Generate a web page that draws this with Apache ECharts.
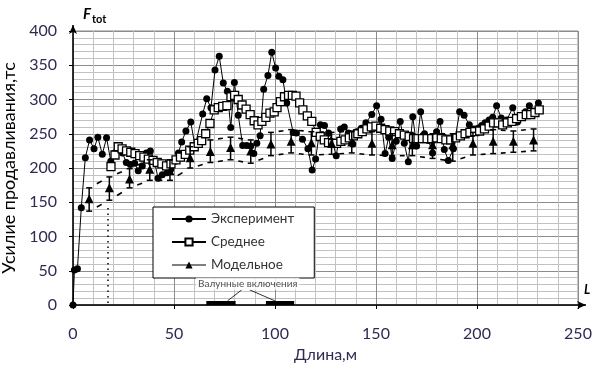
<!DOCTYPE html>
<html><head><meta charset="utf-8">
<script src="https://cdn.jsdelivr.net/npm/echarts@6/dist/echarts.min.js"></script>
<style>html,body{margin:0;padding:0;background:#fff}#c{width:594px;height:366px}</style>
</head><body><div id="c"></div>
<script>
// ---- data ----
const expX = [0,0.7,2.2,4.1,6.1,8.2,10.4,12.3,14.5,16.6,18.7,20.6,22.6,24.5,26.4,28.4,30.5,32.3,34.3,36.3,38.3,40.2,42.1,44.2,46.6,48.4,50.5,52.2,53.8,55.9,58.3,60.4,64.2,66.2,68.3,70.3,72.4,74.4,76.4,78.1,79.9,81.8,84,86,88,89.5,91,92.6,94.4,96.5,98.4,100.3,101.9,103.9,105.8,109,110.6,113.6,116.3,118.4,120.1,122.5,124.5,126.5,128.5,130.3,132.5,134.3,136.3,138.5,140.4,142.7,145,147.9,150.3,152.5,154.5,156.3,158,160,162,164,166,168.2,170.1,172.1,174,176,178,180,181.7,183.8,185.8,188.3,191.4,193.6,196.2,198.5,200.5,202.3,204,206,207.8,209.7,212,214.7,217.7,220,222,224,225.9,228,230.4];
const expY = [0,51,53,142,215,241,228,245,220,244,210,222,228,222,208,205,207,196,203,222,225,212,185,190,193,198,210,222,238,254,267,232,279,301,288,343,363,324,312,259,325,277,233,233,232,221,236,247,315,335,369,346,334,329,295,252,251,242,228,197,213,263,262,251,238,218,257,260,251,235,253,258,266,278,291,271,221,245,214,239,268,236,209,275,232,282,250,240,222,253,268,227,211,228,282,277,263,257,258,262,266,270,274,291,273,270,288,267,275,282,291,283,295];

const avgX = [18.8,20.8,22.4,24.3,26.5,28.6,30.7,33,35.1,37.3,39.6,41.7,44,46.3,48.5,51,53.2,55.6,57.8,60,62,63.7,65.7,67.8,69.9,71.9,74.1,76.2,78.2,80,81.8,83.7,85.7,87.7,89.7,91.6,93.5,95.5,97.5,99.6,101,102.7,104.7,106.7,108.6,110.4,112.2,113.8,116,118.2,120.4,122.4,124.4,126.5,128.5,130.5,132.6,134.7,136.8,138.8,141,143.2,145.5,147.7,150,152.3,154.5,156.8,159.2,161.6,164,166.4,168.6,170.8,173,175.3,177.6,180,182.3,184.6,187,189.4,191.8,194.1,196.5,198.9,201.3,203.7,206,208.2,210.5,212.7,215,217.3,219.6,222,224.4,226.6,228.7,230.8];
const avgY = [202,219,231,228,225,223,221,218,216,213,211,208,206,203,206,212,216,220,226,231,236,240,250,265,285,288,290,291,304,306,300,292,286,278,269,263,268,274,280,282,288,297,304,306,306,305,295,285,276,268,252,246,241,237,236,236,239,241,244,247,250,253,257,260,261,258,256,254,253,250,248,246,243,243,243,243,243,244,243,241,241,244,247,250,252,253,254,257,261,266,266,263,266,268,272,275,278,278,281,285];

const modelX    = [8,18,28,38,48,58,68,78,88,98,108,118,128,138,148,158,168,178,188,198,208,218,228];
const modelY    = [155,171,184,198,196,215,224,230,225,235,239,237,236,238,236,234,234,234,234,236,239,239,241];
const modelLow  = [137,153,171,182,182,200,208,212,207,218,222,219,220,222,219,218,218,214,210,219,221,223,225];
const modelHigh = [171,187,199,212,212,231,241,245,241,252,256,253,252,254,253,250,250,250,250,252,256,254,257];

const boulderFrom = [66, 95.5];
const boulderTo   = [80.5, 109.5];
const boulderLevel = 4;
const boulderText = 'Валунные включения';
const boulderTextPos = [86.5, 31];
const leaderFrom = [[83.5, 22], [87.5, 22]];
const leaderTo   = [[76.5, 6], [100, 6]];
const dottedX = 17.3, dottedTop = 142;

const xTickMin = 0, xTickMax = 250, xTickStep = 50;
const yTickMin = 0, yTickMax = 400, yTickStep = 50;

const names = ['Эксперимент', 'Среднее', 'Модельное'];
const xName = 'Длина,м';
const yName = 'Усилие продавливания,тс';

// ---- build ----
const zip = (a, b) => a.map((v, i) => [v, b[i]]);
const FONT = 'Lato';
const lblColor = '#2f2a52';

const chart = echarts.init(document.getElementById('c'), null, {renderer: 'canvas'});

const errData = modelX.map((x, i) => [x, modelLow[i], modelHigh[i]]);
const envPairs = [];
for (let i = 0; i + 1 < modelX.length; i++) {
  envPairs.push([modelX[i], modelLow[i], modelX[i + 1], modelLow[i + 1]]);
  envPairs.push([modelX[i], modelHigh[i], modelX[i + 1], modelHigh[i + 1]]);
}

const option = {
  animation: false,
  backgroundColor: '#fff',
  grid: {left: 73, right: 16, top: 31, bottom: 61, show: true, borderColor: '#8a8a8a', borderWidth: 1,
         containLabel: false, outerBoundsMode: 'none'},
  title: {
    text: '{f|F}{s|tot}', left: 78, top: 2,
    textStyle: {rich: {
      f: {fontFamily: FONT, fontStyle: 'italic', fontWeight: 'bold', fontSize: 15, color: '#000', lineHeight: 18, verticalAlign: 'top'},
      s: {fontFamily: FONT, fontWeight: 'bold', fontSize: 11, color: '#000', lineHeight: 18, verticalAlign: 'bottom', padding: [6, 0, 0, 1]}
    }}
  },
  legend: {
    orient: 'vertical', left: 153, top: 207,
    data: [names[0], names[1], {name: names[2], lineStyle: {opacity: 1, width: 1.2, color: '#000'}}],
    backgroundColor: '#fff', borderColor: '#000', borderWidth: 1,
    padding: [5, 20, 6, 18], itemWidth: 34, itemHeight: 9, itemGap: 9,
    textStyle: {fontFamily: FONT, fontSize: 13.5, color: '#333'}
  },
  xAxis: {
    type: 'value', min: xTickMin, max: xTickMax, interval: xTickStep,
    name: xName, nameLocation: 'middle', nameGap: 41,
    nameTextStyle: {fontFamily: FONT, fontSize: 16, color: lblColor},
    axisLine: {lineStyle: {color: '#000', width: 1.5}, symbol: ['none', 'arrow'], symbolSize: [6, 9], symbolOffset: [0, 8]},
    axisTick: {show: true, length: 4, lineStyle: {color: '#000'}},
    axisLabel: {fontFamily: FONT, fontSize: 16, color: lblColor, margin: 21},
    splitLine: {show: true, lineStyle: {color: '#8c8c8c', width: 1}},
    minorTick: {show: false, splitNumber: 5},
    minorSplitLine: {show: true, lineStyle: {color: '#c2c2c2', width: 1}}
  },
  yAxis: {
    type: 'value', min: yTickMin, max: yTickMax, interval: yTickStep,
    name: yName, nameLocation: 'middle', nameGap: 49, nameRotate: 90,
    nameTextStyle: {fontFamily: FONT, fontSize: 18, color: '#000'},
    axisLine: {show: true, lineStyle: {color: '#000', width: 1.5}, symbol: ['none', 'arrow'], symbolSize: [6, 9], symbolOffset: [0, 6]},
    axisTick: {show: true, length: 4, lineStyle: {color: '#000'}},
    axisLabel: {fontFamily: FONT, fontSize: 16, color: lblColor, margin: 16},
    splitLine: {show: true, lineStyle: {color: '#8c8c8c', width: 1}},
    minorTick: {show: false, splitNumber: 5},
    minorSplitLine: {show: true, lineStyle: {color: '#c2c2c2', width: 1}}
  },
  series: [
    {
      name: names[0], type: 'line', data: zip(expX, expY), z: 3,
      symbol: 'circle', symbolSize: 7, showAllSymbol: true,
      lineStyle: {color: '#000', width: 1}, itemStyle: {color: '#000'}
    },
    {
      name: names[1], type: 'line', data: zip(avgX, avgY), z: 4,
      symbol: 'rect', symbolSize: 8, showAllSymbol: true,
      lineStyle: {color: '#000', width: 1}, itemStyle: {color: '#fff', borderColor: '#000', borderWidth: 1.3}
    },
    {
      name: names[2], type: 'line', data: zip(modelX, modelY), z: 5,
      symbol: 'triangle', symbolSize: 9, showAllSymbol: true,
      lineStyle: {opacity: 0}, itemStyle: {color: '#000'}
    },
    {
      type: 'custom', name: 'err', data: errData, z: 5, silent: true,
      renderItem: (params, api) => {
        const x = api.value(0);
        const a = api.coord([x, api.value(1)]), b = api.coord([x, api.value(2)]);
        const cap = 3, st = {stroke: '#000', lineWidth: 1.5};
        return {type: 'group', children: [
          {type: 'line', shape: {x1: a[0], y1: a[1], x2: b[0], y2: b[1]}, style: st},
          {type: 'line', shape: {x1: a[0] - cap, y1: a[1], x2: a[0] + cap, y2: a[1]}, style: st},
          {type: 'line', shape: {x1: b[0] - cap, y1: b[1], x2: b[0] + cap, y2: b[1]}, style: st}
        ]};
      }
    },
    {
      type: 'custom', name: 'env', data: envPairs, z: 2, silent: true,
      renderItem: (params, api) => {
        const p = api.coord([api.value(0), api.value(1)]), q = api.coord([api.value(2), api.value(3)]);
        const t0 = 0.38, t1 = 0.62;
        return {type: 'line', shape: {
          x1: p[0] + (q[0] - p[0]) * t0, y1: p[1] + (q[1] - p[1]) * t0,
          x2: p[0] + (q[0] - p[0]) * t1, y2: p[1] + (q[1] - p[1]) * t1
        }, style: {stroke: '#000', lineWidth: 1.6}};
      }
    },
    {
      type: 'lines', coordinateSystem: 'cartesian2d', z: 6, silent: true,
      data: boulderFrom.map((f, i) => ({coords: [[f, boulderLevel], [boulderTo[i], boulderLevel]]})),
      lineStyle: {color: '#000', width: 4, opacity: 1}
    },
    {
      type: 'lines', coordinateSystem: 'cartesian2d', z: 6, silent: true,
      data: leaderFrom.map((f, i) => ({coords: [f, leaderTo[i]]})),
      lineStyle: {color: '#000', width: 0.8, opacity: 1}
    },
    {
      type: 'lines', coordinateSystem: 'cartesian2d', z: 2, silent: true,
      data: [{coords: [[dottedX, 3], [dottedX, dottedTop]]}],
      lineStyle: {color: '#000', width: 1.5, type: [1.5, 4], opacity: 1}
    },
    {
      type: 'scatter', z: 7, silent: true, symbolSize: 0,
      data: [boulderTextPos],
      label: {show: true, position: 'inside', formatter: boulderText, fontFamily: FONT, fontSize: 10, color: '#222',
              backgroundColor: '#fff', padding: [1, 2]}
    }
  ]
};
chart.setOption(option);

// axis extensions beyond the plot frame (positions from the library's own scales)
const cTop = chart.convertToPixel({gridIndex: 0}, [xTickMin, yTickMax]);
const cRight = chart.convertToPixel({gridIndex: 0}, [xTickMax, yTickMin]);
chart.setOption({
  graphic: [
    {type: 'line', shape: {x1: cTop[0], y1: cTop[1], x2: cTop[0], y2: cTop[1] - 6}, style: {stroke: '#000', lineWidth: 1.5}},
    {type: 'line', shape: {x1: cRight[0], y1: cRight[1], x2: cRight[0] + 8, y2: cRight[1]}, style: {stroke: '#000', lineWidth: 1.5}},
    {type: 'text', x: cRight[0] + 6, y: cRight[1] - 22, style: {text: 'L', fontFamily: FONT, fontStyle: 'italic', fontWeight: 'bold', fontSize: 13, fill: '#000'}}
  ]
});
</script></body></html>
